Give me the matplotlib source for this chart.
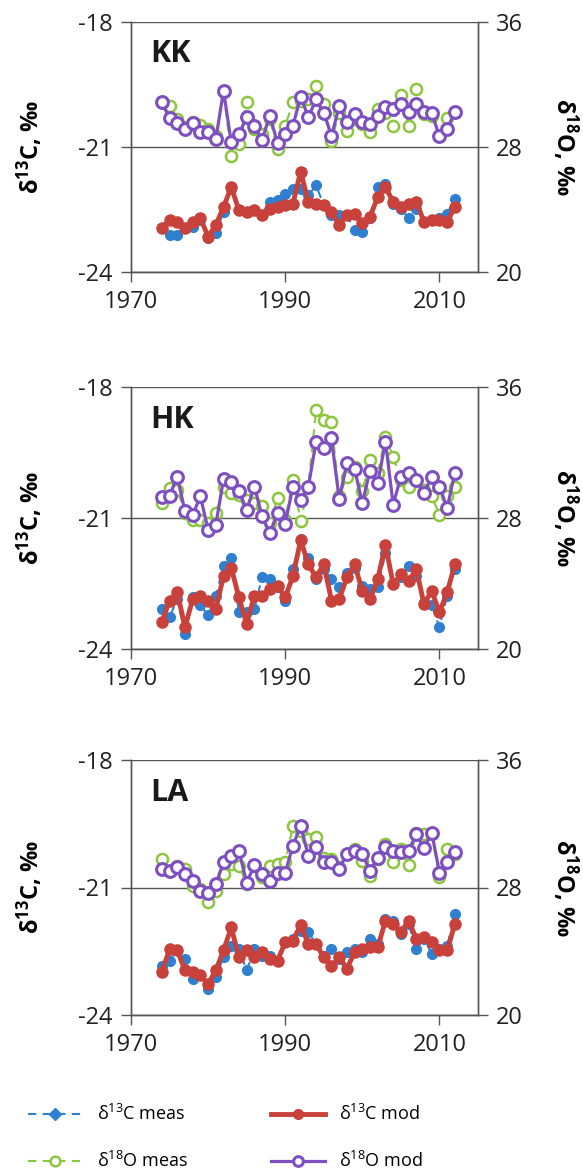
import numpy as np
import matplotlib
matplotlib.use("Agg")
import matplotlib.pyplot as plt
from matplotlib.lines import Line2D

plt.rcParams['font.family'] = ['Open Sans', 'DejaVu Sans']
plt.rcParams['mathtext.fontset'] = 'custom'
plt.rcParams['mathtext.rm'] = 'Open Sans'
plt.rcParams['mathtext.bf'] = 'Open Sans:bold'
plt.rcParams['mathtext.it'] = 'Open Sans:italic'
plt.rcParams['axes.unicode_minus'] = False

years = np.arange(1974, 2013)
sites = ["KK", "HK", "LA"]

# KK
kk_c13_meas = [-22.95, -23.11, -23.10, -22.95, -22.91, -22.75, -23.19, -23.07, -22.56, -22.00,
               -22.52, -22.56, -22.52, -22.63, -22.32, -22.28, -22.12, -22.00, -22.00, -22.16,
               -21.92, -22.40, -22.63, -22.63, -22.63, -22.99, -23.03, -22.71, -21.96, -21.88,
               -22.36, -22.48, -22.71, -22.48, -22.79, -22.75, -22.71, -22.60, -22.24]
kk_c13_mod = [-22.95, -22.75, -22.79, -22.95, -22.79, -22.71, -23.15, -22.87, -22.44, -21.96,
              -22.52, -22.56, -22.52, -22.63, -22.48, -22.44, -22.40, -22.36, -21.59, -22.32,
              -22.36, -22.40, -22.56, -22.87, -22.63, -22.60, -22.83, -22.67, -22.20, -21.96,
              -22.32, -22.44, -22.36, -22.32, -22.79, -22.75, -22.75, -22.79, -22.44]
kk_o18_meas = [30.85, 30.60, 29.80, 29.26, 29.57, 29.40, 29.15, 28.72, 31.50, 27.45,
               28.20, 30.85, 29.15, 28.83, 29.80, 27.87, 29.36, 30.85, 30.96, 31.06,
               31.90, 30.74, 28.40, 30.20, 29.04, 29.80, 29.47, 28.94, 30.43, 30.20,
               29.36, 31.30, 29.36, 31.70, 30.10, 30.00, 28.72, 29.83, 30.26]
kk_o18_mod = [30.85, 29.83, 29.53, 29.15, 29.53, 28.98, 28.98, 28.50, 31.60, 28.30,
              28.83, 29.90, 29.36, 28.47, 30.00, 28.26, 28.83, 29.36, 31.23, 29.90,
              31.06, 30.20, 28.72, 30.60, 29.57, 30.10, 29.57, 29.47, 30.00, 30.53,
              30.43, 30.74, 30.26, 30.74, 30.26, 30.20, 28.68, 29.15, 30.26]

# HK
hk_c13_meas = [-23.08, -23.27, -22.86, -23.65, -22.82, -23.00, -23.23, -22.78, -22.10, -21.91,
               -23.16, -23.16, -23.08, -22.36, -22.40, -22.59, -22.89, -22.17, -21.49, -21.91,
               -22.40, -22.17, -22.40, -22.59, -22.25, -22.14, -22.55, -22.63, -22.59, -21.80,
               -22.48, -22.36, -22.10, -22.33, -22.93, -23.00, -23.50, -22.78, -22.17]
hk_c13_mod = [-23.39, -22.89, -22.70, -23.50, -22.86, -22.78, -22.89, -23.08, -22.33, -22.14,
              -22.82, -23.42, -22.78, -22.78, -22.63, -22.55, -22.82, -22.33, -21.51, -22.06,
              -22.36, -22.06, -22.89, -22.86, -22.36, -22.06, -22.67, -22.86, -22.40, -21.61,
              -22.52, -22.29, -22.44, -22.17, -22.97, -22.67, -23.16, -22.70, -22.06]
hk_o18_meas = [28.91, 29.82, 29.72, 28.30, 27.90, 27.90, 27.70, 28.30, 29.92, 29.52,
               29.42, 29.11, 28.91, 28.71, 27.70, 29.21, 27.90, 30.33, 27.80, 29.92,
               34.62, 33.97, 33.87, 29.32, 30.53, 31.14, 29.62, 31.54, 30.73, 32.96,
               31.74, 30.33, 29.92, 30.33, 29.72, 29.32, 28.20, 29.32, 29.92]
hk_o18_mod = [29.28, 29.36, 30.53, 28.40, 28.20, 29.32, 27.29, 27.60, 30.37, 30.17,
              29.62, 28.50, 29.92, 28.10, 27.09, 28.30, 27.66, 29.92, 29.11, 29.92,
              32.66, 32.25, 32.86, 29.15, 31.34, 30.98, 28.91, 30.90, 30.13, 32.66,
              28.81, 30.53, 30.77, 30.33, 29.52, 30.53, 29.92, 28.61, 30.77]

# LA
la_c13_meas = [-22.84, -22.72, -22.48, -22.68, -23.15, -23.07, -23.40, -23.11, -22.64, -22.37,
               -22.45, -22.95, -22.45, -22.60, -22.60, -22.72, -22.29, -22.21, -22.02, -22.05,
               -22.33, -22.60, -22.45, -22.68, -22.52, -22.45, -22.52, -22.21, -22.33, -21.74,
               -21.78, -22.09, -21.86, -22.45, -22.21, -22.56, -22.45, -22.37, -21.63]
la_c13_mod = [-22.99, -22.45, -22.48, -22.95, -22.99, -23.07, -23.27, -22.95, -22.48, -21.94,
              -22.64, -22.48, -22.64, -22.52, -22.68, -22.72, -22.29, -22.25, -21.88, -22.33,
              -22.33, -22.64, -22.84, -22.64, -22.91, -22.52, -22.45, -22.41, -22.41, -21.78,
              -21.86, -22.05, -21.78, -22.21, -22.17, -22.29, -22.48, -22.48, -21.86]
la_o18_meas = [29.78, 29.05, 29.36, 29.15, 28.10, 27.90, 27.06, 27.79, 28.84, 29.46,
               29.36, 28.21, 29.36, 28.63, 29.36, 29.46, 29.57, 31.87, 31.56, 31.03,
               31.14, 29.88, 29.78, 29.26, 30.09, 30.41, 29.67, 28.73, 29.78, 30.72,
               29.57, 30.41, 29.40, 31.45, 31.35, 31.35, 28.63, 30.41, 30.09]
la_o18_mod = [29.15, 29.05, 29.26, 28.84, 28.42, 27.79, 27.64, 28.21, 29.57, 29.99,
              30.30, 28.31, 29.40, 28.84, 28.42, 28.94, 28.94, 30.62, 31.87, 29.99,
              30.51, 29.57, 29.57, 29.19, 30.09, 30.30, 30.09, 29.05, 29.88, 30.51,
              30.30, 30.20, 30.30, 31.35, 30.45, 31.45, 28.94, 29.57, 30.20]

c13_meas = [kk_c13_meas, hk_c13_meas, la_c13_meas]
c13_mod = [kk_c13_mod, hk_c13_mod, la_c13_mod]
o18_meas = [kk_o18_meas, hk_o18_meas, la_o18_meas]
o18_mod = [kk_o18_mod, hk_o18_mod, la_o18_mod]

blue = '#2f80d0'
red = '#c8413a'
green = '#8cc63f'
purple = '#7d4fc0'
gridc = '#555555'

W, H = 583, 1171
fig = plt.figure(figsize=(W / 100, H / 100), dpi=100)

# panel boxes in pixels: (left, top, right, bottom)
boxes = [(131, 22, 478, 272), (131, 387, 478, 649), (131, 760, 478, 1015)]

meas_c = dict(ls=(0, (4, 3)), lw=1.5, color=blue, marker='o', ms=7, mec=blue, mfc=blue)
mod_c = dict(ls='-', lw=3.5, color=red, marker='o', ms=8, mec=red, mfc=red)
meas_o = dict(ls=(0, (4, 3)), lw=1.5, color=green, marker='o', ms=8, mec=green,
              mfc='white', mew=1.8)
mod_o = dict(ls='-', lw=2.3, color=purple, marker='o', ms=8.5, mec=purple,
             mfc='white', mew=2.2)

for i, (l, t, r, b) in enumerate(boxes):
    ax = fig.add_axes([l / W, 1 - b / H, (r - l) / W, (b - t) / H])
    ax2 = ax.twinx()

    ax.plot(years, c13_meas[i], **meas_c)
    ax.plot(years, c13_mod[i], **mod_c)
    ax2.plot(years, o18_meas[i], **meas_o)
    ax2.plot(years, o18_mod[i], **mod_o)

    ax.set_xlim(1970, 2015)
    ax.set_ylim(-24, -18)
    ax2.set_ylim(20, 36)
    ax.set_xticks([1970, 1990, 2010])
    ax.set_yticks([-24, -21, -18])
    ax2.set_yticks([20, 28, 36])
    ax.grid(axis='y', color=gridc, lw=1)
    ax.set_axisbelow(True)

    for a in (ax, ax2):
        for s in a.spines.values():
            s.set_color(gridc)
            s.set_linewidth(1)
        a.spines['top'].set_visible(False)
        a.tick_params(labelsize=17, color=gridc, width=1, length=7,
                      direction='out', pad=6, labelcolor='#222222')

    ax.set_ylabel(r'δ$^{\mathbf{13}}$C, ‰', fontsize=17, fontweight='bold',
                  va='center')
    ax.yaxis.set_label_coords(-0.29, 0.5)
    ax2.set_ylabel(r'δ$^{\mathbf{18}}$O, ‰', fontsize=17, fontweight='bold',
                   rotation=270, va='center')
    ax2.yaxis.set_label_coords(1.25, 0.5)
    ax.text(0.055, 0.93, sites[i], transform=ax.transAxes, fontsize=22,
            fontweight='bold', va='top', ha='left', color='#1a1a1a')

handles = [Line2D([], [], **dict(meas_c, marker='D', ms=6)),
           Line2D([], [], **dict(meas_o, ms=7)),
           Line2D([], [], **dict(mod_c, ms=7)),
           Line2D([], [], **dict(mod_o, ms=7))]
labels = [r'δ$^{13}$C meas', r'δ$^{18}$O meas', r'δ$^{13}$C mod', r'δ$^{18}$O mod']
fig.legend(handles, labels, loc='lower left', bbox_to_anchor=(0.02, -0.014),
           ncol=2, frameon=False, fontsize=13, columnspacing=4.6,
           handlelength=3, labelspacing=1.5)

fig.savefig('out.png', dpi=100)
